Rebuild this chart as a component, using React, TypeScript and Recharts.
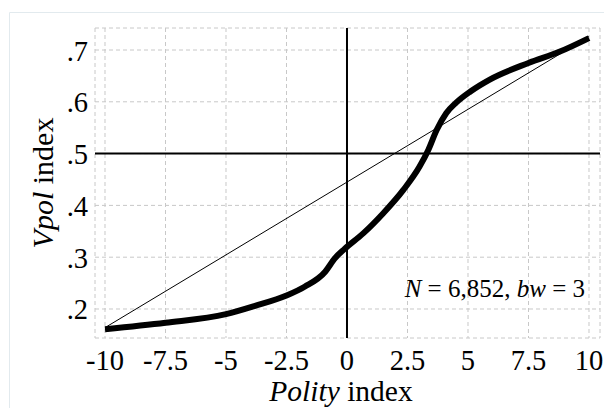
import React from 'react';
import { ComposedChart, Line, XAxis, YAxis, CartesianGrid, ReferenceLine, Customized } from 'recharts';

const xTicks = [-10, -7.5, -5, -2.5, 0, 2.5, 5, 7.5, 10];
const yTicks = [0.2, 0.3, 0.4, 0.5, 0.6, 0.7];

const curveX = [-10, -7.5, -5, -3.8, -2.5, -1.75, -0.9, -0.5, -0.1, 0.67, 1.5, 2.33, 3.0, 3.36, 3.7, 4.1, 4.5, 5.1, 5.9, 7.5, 8.8, 10];
const curveY = [0.161, 0.1735, 0.19, 0.206, 0.226, 0.243, 0.272, 0.298, 0.316, 0.346, 0.385, 0.43, 0.475, 0.507, 0.545, 0.578, 0.598, 0.62, 0.643, 0.675, 0.697, 0.723];

const diagX = [-10, 10];
const diagY = [0.164, 0.726];

const curveData = curveX.map((x, i) => ({ x, y: curveY[i] }));
const diagData = diagX.map((x, i) => ({ x, y: diagY[i] }));

const FONT = '"Liberation Serif", "Times New Roman", serif';
const TICK_SIZE = 28.5;

const XTick = (props: any) => {
  const { x, y, payload } = props;
  return (
    <text x={x} y={y + 32} textAnchor="middle" fontFamily={FONT} fontSize={TICK_SIZE} fill="#000">
      {String(payload.value)}
    </text>
  );
};

const YTick = (props: any) => {
  const { x, y, payload } = props;
  return (
    <text x={x} y={y + 10.5} textAnchor="end" fontFamily={FONT} fontSize={TICK_SIZE} fill="#000">
      {Number(payload.value).toFixed(1).replace(/^0/, '')}
    </text>
  );
};

const Decor = () => (
  <g fontFamily={FONT} fill="#000">
    <line x1={9.5} y1={12.5} x2={604} y2={12.5} stroke="#e2eaee" strokeWidth={1} />
    <line x1={9.5} y1={12.5} x2={9.5} y2={408} stroke="#e2eaee" strokeWidth={1} />
    <text x={341} y={401} fontSize={29.5} textAnchor="middle">
      <tspan fontStyle="italic">Polity</tspan> index
    </text>
    <text x={53} y={183} fontSize={30} textAnchor="middle" transform="rotate(-90 53 183)">
      <tspan fontStyle="italic">Vpol</tspan> index
    </text>
    <text x={585} y={297} fontSize={25} textAnchor="end">
      <tspan fontStyle="italic">N</tspan> = 6,852, <tspan fontStyle="italic">bw</tspan> = 3
    </text>
  </g>
);

export default function App() {
  return (
    <div style={{ position: 'absolute', left: 0, top: 0, background: '#fff' }}>
      <ComposedChart width={604} height={408} margin={{ top: 28, right: 4, bottom: 30, left: 0 }}>
        <CartesianGrid stroke="#c8c8c8" strokeDasharray="4 3" />
        <XAxis
          type="number"
          dataKey="x"
          domain={[-10.413, 10.455]}
          ticks={xTicks}
          axisLine={false}
          tickLine={false}
          tickSize={0}
          tickMargin={0}
          height={40}
          interval={0}
          tick={<XTick />}
        />
        <YAxis
          type="number"
          dataKey="y"
          domain={[0.144, 0.7425]}
          ticks={yTicks}
          axisLine={false}
          tickLine={false}
          tickSize={0}
          tickMargin={7}
          width={95}
          interval={0}
          tick={<YTick />}
        />
        <ReferenceLine y={0.5} stroke="#000" strokeWidth={2} />
        <ReferenceLine x={0} stroke="#000" strokeWidth={2} />
        <Line data={diagData} dataKey="y" type="linear" stroke="#000" strokeWidth={1} dot={false} isAnimationActive={false} />
        <Line data={curveData} dataKey="y" type="monotone" stroke="#000" strokeWidth={6} dot={false} isAnimationActive={false} />
        <Customized component={Decor} />
      </ComposedChart>
    </div>
  );
}
